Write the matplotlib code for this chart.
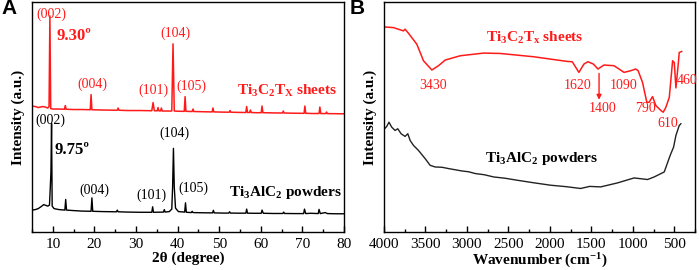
import matplotlib
matplotlib.use('Agg')
from matplotlib import pyplot as plt
from matplotlib.ticker import MultipleLocator, NullLocator

# ---- XRD data (panel A), intensity in arbitrary units ----
xrd_theta_sheets = [5, 5.8, 6.5, 7.0, 7.6, 8.2, 8.8, 9.1, 9.3, 9.5, 10.0, 11.5, 12.8, 13.0, 13.2,
                    15, 17, 19.0, 19.2, 19.4, 22, 25.5, 25.7, 25.9, 28, 31, 33.8, 34.1, 34.4,
                    35.1, 35.3, 35.5, 35.9, 36.1, 36.3, 37.5, 38.6, 38.9, 39.2, 40, 41.6, 41.8,
                    42.0, 43.5, 43.7, 43.9, 46, 48.3, 48.5, 48.7, 51, 52.4, 52.6, 52.8, 55,
                    56.4, 56.6, 56.8, 57.3, 57.5, 57.7, 59, 60.1, 60.3, 60.5, 63, 65.2, 65.4,
                    65.6, 68, 70.4, 70.6, 70.8, 72.5, 74.0, 74.2, 74.4, 75.6, 75.8, 76.0, 78, 80]
xrd_int_sheets = [126.5, 126, 125, 125.5, 126, 125.5, 124.5, 126, 217, 124, 123.5, 123.5, 123.3, 127, 123.3,
                  123, 123, 122.8, 138, 122.8, 122.5, 122.3, 124.5, 122.3, 122, 122, 121.8, 130, 121.8,
                  121.7, 125, 121.7, 121.6, 124.5, 121.5, 121.5, 121.5, 189, 121.5, 121.3, 121.2, 136,
                  121.2, 121, 123.5, 121, 120.8, 120.6, 124.5, 120.6, 120.4, 120.3, 122, 120.3, 120.1,
                  120, 126, 120, 120, 122.5, 120, 119.8, 119.8, 126.5, 119.8, 119.6, 119.5, 121.5,
                  119.5, 119.3, 119.2, 126.5, 119.2, 119, 119, 125.5, 119, 118.9, 120.5, 118.9, 118.8, 118.7]

xrd_theta_powder = [5, 5.8, 6.5, 7.2, 7.8, 8.3, 8.8, 9.2, 9.4, 9.55, 9.7, 9.85, 10.3, 11.5, 12.9, 13.1,
                    13.3, 15, 17, 19.2, 19.4, 19.6, 22, 25.3, 25.5, 25.7, 28, 31, 33.8, 34.0, 34.2,
                    35.5, 36.6, 36.8, 37.0, 38.0, 38.6, 38.8, 39.0, 39.2, 39.5, 40.2, 41.7, 41.9,
                    42.1, 43.3, 43.5, 43.7, 46, 48.4, 48.6, 48.8, 51, 52.3, 52.5, 52.7, 55, 56.4,
                    56.6, 56.8, 58.5, 60.1, 60.3, 60.6, 63, 65.3, 65.5, 65.7, 68, 70.3, 70.5, 70.8,
                    72, 73.8, 74.0, 74.3, 75.5, 76, 78, 80]
xrd_int_powder = [22, 22.5, 23.5, 25.5, 27.5, 26.8, 26, 27, 45, 60, 109, 26, 23.5, 22.5, 22, 32.7,
                  22, 21.5, 21, 20.8, 34.3, 20.8, 20.5, 20.3, 22, 20.3, 20, 19.8, 19.8, 25.3, 19.8,
                  19.9, 20, 22.5, 20, 20.5, 23, 45, 84, 45, 24, 20.5, 20, 29.3,
                  19.8, 19.5, 20.8, 19.5, 19.3, 19.2, 21.8, 19.2, 19, 19, 20.3, 19, 18.9, 18.9,
                  23, 18.9, 18.8, 18.8, 22, 18.8, 18.6, 18.6, 20, 18.6, 18.5, 18.5, 23, 18.5,
                  18.8, 18.5, 22.7, 18.5, 19.5, 18.5, 18.3, 18.3]

# ---- FTIR data (panel B) ----
ftir_wn_sheets = [4000, 3887, 3766, 3746, 3706, 3605, 3524, 3423, 3343, 3262, 3081, 2799, 2597,
                  2194, 1790, 1730, 1650, 1589, 1541, 1476, 1420, 1348, 1227, 1166, 1106, 1025,
                  965, 936, 883, 831, 803, 762, 722, 661, 633, 601, 560, 520, 500, 480, 452, 440, 411]
ftir_t_sheets = [206, 205.3, 202, 203.7, 199.7, 188.7, 172, 162.7, 167, 172.7, 177, 179.7, 179.3,
                 176, 171.3, 171, 160.3, 168.7, 171, 168.7, 163.7, 167.7, 167, 163.7, 160.3, 162,
                 163.7, 162, 150.3, 130.3, 130.3, 136, 127, 122, 120.3, 125.3, 135.3, 172, 170.3,
                 144.7, 168.7, 180.3, 181.3]

ftir_wn_powder = [3990, 3967, 3940, 3907, 3867, 3834, 3794, 3746, 3713, 3685, 3645, 3585, 3504,
                  3444, 3383, 3300, 3222, 3140, 3061, 2980, 2899, 2790, 2678, 2540, 2395, 2200,
                  1992, 1800, 1629, 1520, 1387, 1185, 984, 822, 742, 621, 549, 508, 480, 440, 420]
ftir_t_powder = [104, 106, 110.3, 105.3, 102, 103.7, 98.7, 96, 98.7, 92, 87, 82, 73.7,
                 67, 65.3, 65, 63.7, 62.5, 61.3, 60.5, 58.7, 57.5, 55.3, 54, 52, 49.5,
                 47, 45.5, 43.7, 45.8, 45.3, 49.3, 54.3, 52.7, 55.3, 60.3, 77, 85.3, 97, 107, 108.7]

red = '#ff1a1a'
serif = 'Liberation Serif'
plt.rcParams['font.family'] = serif
plt.rcParams['mathtext.fontset'] = 'custom'
plt.rcParams['mathtext.rm'] = serif
plt.rcParams['mathtext.bf'] = serif + ':bold'
plt.rcParams['mathtext.it'] = serif + ':italic'

fig = plt.figure(figsize=(6.99, 2.70), dpi=100)
axA = fig.add_axes([32/699, 38/270, 312/699, 230/270])
axB = fig.add_axes([384/699, 38/270, 311/699, 230/270])

for ax in (axA, axB):
    ax.yaxis.set_major_locator(NullLocator())
    ax.tick_params(axis='x', direction='in', length=4, width=1, labelsize=11, pad=4, top=False)
    ax.tick_params(axis='x', which='minor', direction='in', length=2.5, width=1, top=False)
    for s in ax.spines.values():
        s.set_linewidth(1)
    ax.set_ylabel('Intensity (a.u.)', fontsize=11, fontweight='bold', labelpad=5)

# panel A
axA.plot(xrd_theta_sheets, xrd_int_sheets, color=red, lw=1.1)
axA.plot(xrd_theta_powder, xrd_int_powder, color='black', lw=1.0)
axA.set_xlim(5, 80)
axA.set_ylim(0, 231)
axA.xaxis.set_major_locator(MultipleLocator(10))
axA.xaxis.set_minor_locator(MultipleLocator(5))
axA.set_xlabel('2θ (degree)', fontsize=11, fontweight='bold', labelpad=1)

fs = 10
for txt, x, y in [('(002)', 9.7, 218.5), ('(004)', 19.6, 148.7), ('(101)', 34.1, 142),
                  ('(104)', 39.4, 199.7), ('(105)', 43.4, 146)]:
    axA.text(x, y, txt, color=red, fontsize=fs, ha='center', va='center')
axA.text(11.0, 197, '9.30º', color=red, fontsize=12, fontweight='bold', ha='left', va='center')
axA.text(54.2, 142, r'$\mathbf{Ti_3C_2T_X}$ sheets', color=red, fontsize=11,
         fontweight='bold', ha='left', va='center')

for txt, x, y in [('(002)', 9.3, 112), ('(004)', 20.0, 42), ('(101)', 33.8, 37),
                  ('(104)', 39.3, 99), ('(105)', 43.7, 43.7)]:
    axA.text(x, y, txt, color='black', fontsize=fs, ha='center', va='center')
axA.text(10.5, 82, '9.75º', color='black', fontsize=12, fontweight='bold', ha='left', va='center')
axA.text(52.4, 39.7, r'$\mathbf{Ti_3AlC_2}$ powders', color='black', fontsize=11,
         fontweight='bold', ha='left', va='center')

# panel B
axB.plot(ftir_wn_sheets, ftir_t_sheets, color=red, lw=1.1)
axB.plot(ftir_wn_powder, ftir_t_powder, color='#222222', lw=1.0)
axB.set_xlim(4000, 250)
axB.set_ylim(0, 231)
axB.xaxis.set_major_locator(MultipleLocator(500))
axB.xaxis.set_minor_locator(MultipleLocator(250))
axB.set_xlabel(r'Wavenumber (cm$^{\mathbf{-1}}$)', fontsize=11, fontweight='bold', labelpad=1)

for txt, x, y in [('3430', 3403, 147), ('1620', 1670, 147), ('1090', 1106, 147),
                  ('1400', 1367, 123.7), ('790', 843, 123.7), ('610', 580, 108.7),
                  ('460', 350, 152)]:
    axB.text(x, y, txt, color=red, fontsize=fs, ha='center', va='center')
axB.annotate('', xy=(1407, 130), xytext=(1407, 162),
             arrowprops=dict(arrowstyle='-|>', color=red, lw=1, mutation_scale=7))
axB.text(2186, 195.3, r'$\mathbf{Ti_3C_2T_x}$ sheets', color=red, fontsize=11,
         fontweight='bold', ha='center', va='center')
axB.text(2105, 73.7, r'$\mathbf{Ti_3AlC_2}$ powders', color='black', fontsize=11,
         fontweight='bold', ha='center', va='center')

fig.text(1/699, 262/270, 'A', fontsize=15, fontweight='bold', family='Liberation Sans', va='center')
fig.text(350/699, 262/270, 'B', fontsize=15, fontweight='bold', family='Liberation Sans', va='center')

fig.savefig('out.png', dpi=100)
